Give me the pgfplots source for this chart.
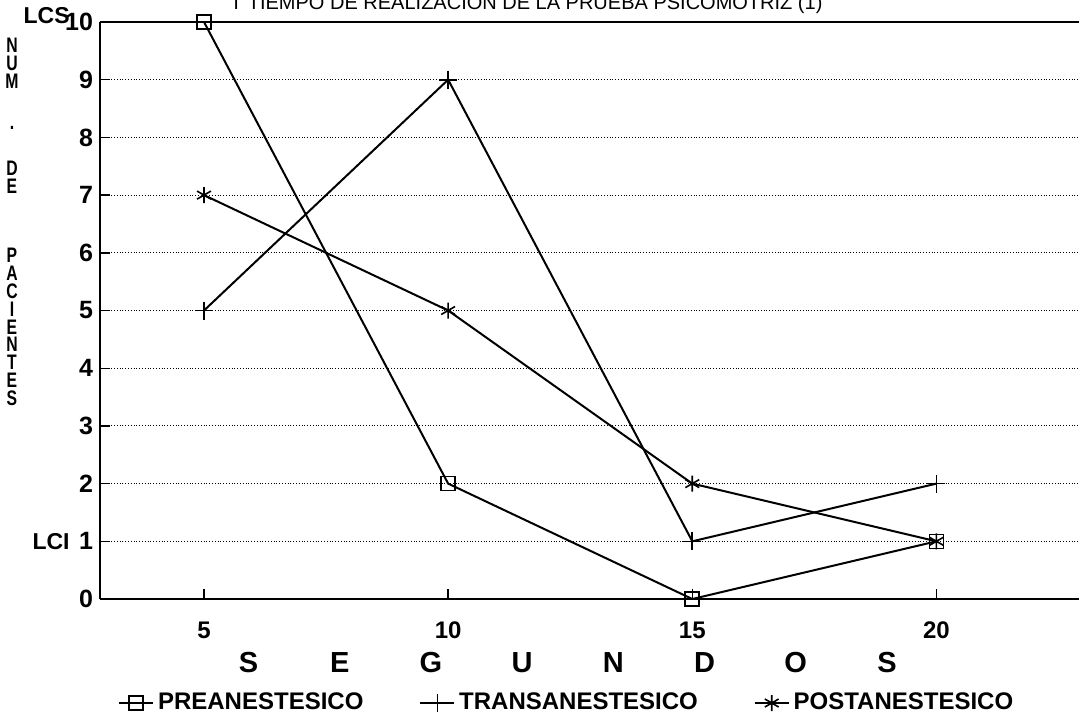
\documentclass[border=0pt]{standalone}
\usepackage{pgfplots}
\pgfplotsset{compat=1.18}
\usepackage{fontspec}
\setmainfont{Liberation Sans}
\newfontfamily\narrow[FakeStretch=0.75]{Liberation Sans}
\begin{document}
\begin{tikzpicture}[x=1pt,y=1pt]
\begin{axis}[
  scale only axis,
  width=489.5pt, height=288.5pt,
  xmin=2.87, xmax=22.92,
  ymin=0, ymax=10,
  axis x line*=bottom, axis y line*=left,
  axis line style={line width=1pt, -},
  xtick={5,10,15,20},
  ytick={0,1,...,10},
  tick align=inside,
  major tick length=5pt,
  tick style={black, line width=0.7pt},
  ymajorgrids,
  grid style={densely dotted, black, line width=0.5pt},
  /pgf/number format/assume math mode=true,
  xticklabel style={font=\bfseries\fontsize{12}{12}\selectfont, yshift=-8pt},
  yticklabel style={font=\bfseries\fontsize{12.5}{12.5}\selectfont, xshift=0pt},
  xlabel={\makebox[45.6pt]{S}\makebox[45.6pt]{E}\makebox[45.6pt]{G}\makebox[45.6pt]{U}\makebox[45.6pt]{N}\makebox[45.6pt]{D}\makebox[45.6pt]{O}\makebox[45.6pt]{S}},
  xlabel style={font=\bfseries\fontsize{14.5}{14.5}\selectfont, at={(axis cs:12.45,0)}, anchor=north, yshift=-26.5pt, inner sep=0pt},
  legend columns=3,
  legend style={draw=none, fill=none, font=\bfseries\fontsize{12}{12}\selectfont,
    at={(axis cs:12.45,0)}, anchor=center, yshift=-52pt,
    /tikz/every even column/.append style={column sep=26pt}},
  legend image post style={line width=0.8pt},
  clip=false,
]
\addplot[black, line width=1pt, mark=square, mark size=3.5pt, mark options={solid, line width=0.8pt}]
  coordinates {(5,10) (10,2) (15,0) (20,1)};
\addlegendentry{PREANESTESICO}
\addplot[black, line width=1pt, mark=+, mark size=4.5pt, mark options={solid, line width=0.8pt}]
  coordinates {(5,5) (10,9) (15,1) (20,2)};
\addlegendentry{TRANSANESTESICO}
\addplot[black, line width=1pt, mark=asterisk, mark size=4pt, mark options={solid, line width=0.8pt}]
  coordinates {(5,7) (10,5) (15,2) (20,1)};
\addlegendentry{POSTANESTESICO}
\draw[black, line width=0.7pt] (rel axis cs:0,1) -- (rel axis cs:1,1);
\node[font=\bfseries\fontsize{11.5}{11.5}\selectfont, anchor=east, inner sep=0pt] at ([xshift=-15pt,yshift=3pt]rel axis cs:0,1) {LCS};
\node[font=\bfseries\fontsize{11.5}{11.5}\selectfont, anchor=east, inner sep=0pt] at ([xshift=-15pt]axis cs:2.87,1) {LCI};
\node[font=\fontsize{10}{10}\selectfont, anchor=south] at ([yshift=0.5pt]axis cs:11.6,10) {T TIEMPO DE REALIZACION DE LA PRUEBA PSICOMOTRIZ (1)};
\node[font=\narrow\bfseries\fontsize{10.5}{8.9}\selectfont, anchor=north, align=center, inner sep=0pt] at ([xshift=-44pt,yshift=-8pt]rel axis cs:0,1)
  {N\\U\\M\\[11.6pt].\\[14.2pt]D\\E\\[25.8pt]P\\A\\C\\I\\E\\N\\T\\E\\S};
\coordinate (O) at (rel axis cs:0,0);
\coordinate (T) at (rel axis cs:1,1);
\end{axis}
\pgfresetboundingbox
\path ([shift={(-50pt,-62.5pt)}]O) rectangle ([shift={(0pt,11pt)}]T);
\end{tikzpicture}
\end{document}
